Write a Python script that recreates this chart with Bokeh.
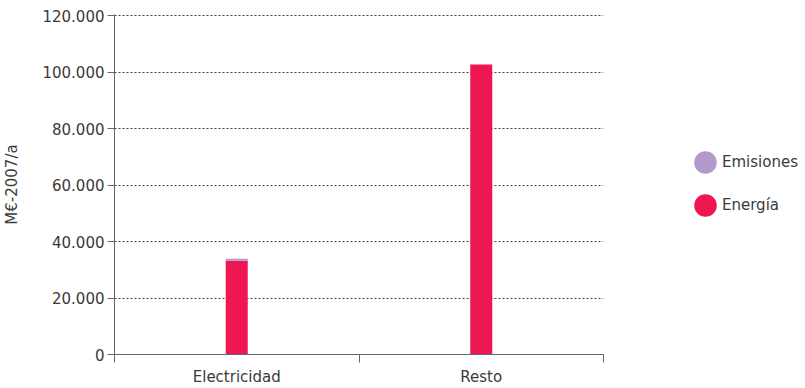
from bokeh.plotting import figure
from bokeh.layouts import row
from bokeh.models import (ColumnDataSource, Range1d, FixedTicker, Legend, LegendItem)
from bokeh.embed import file_html
from bokeh.resources import INLINE

# Data (M€-2007 per year)
categories = ["Electricidad", "Resto"]
energia = [33200, 102700]
emisiones = [700, 0]
series_names = ["Emisiones", "Energía"]
y_ticks = [0, 20000, 40000, 60000, 80000, 100000, 120000]

PINK = "#EE1752"
PURPLE = "#B29BCA"
TEXT = "#3a3a3a"
AXIS = "#666666"
FONT = "DejaVu Sans"

centers = [i + 0.5 for i in range(len(categories))]
source = ColumnDataSource(dict(x=centers, cat=categories, energia=energia, emisiones=emisiones))

# a little headroom above the top tick so its grid line is not clipped
p = figure(width=690, height=388, output_backend="svg", toolbar_location=None,
           x_range=Range1d(0, len(categories)), y_range=Range1d(0, 120400),
           min_border_left=114, min_border_right=87, min_border_top=14, min_border_bottom=33)
p.outline_line_color = None
p.background_fill_color = "white"
p.border_fill_color = "white"

bars = p.vbar_stack(["energia", "emisiones"], x="x", width=0.09, source=source,
                    color=[PINK, PURPLE], line_width=0)

# Axes
xa = p.xaxis[0]
xa.ticker = FixedTicker(ticks=centers, minor_ticks=list(range(len(categories) + 1)))
xa.major_label_overrides = {c: name for c, name in zip(centers, categories)}
xa.major_tick_line_color = None
xa.major_tick_out = 8
xa.major_tick_in = 0
xa.minor_tick_out = 8
xa.minor_tick_in = 0
xa.minor_tick_line_color = AXIS
xa.axis_line_color = AXIS
xa.major_label_standoff = 5
xa.major_label_text_font = FONT
xa.major_label_text_font_size = "15px"
xa.major_label_text_color = TEXT

ya = p.yaxis[0]
ya.ticker = FixedTicker(ticks=y_ticks, minor_ticks=[])
ya.major_label_overrides = {v: f"{v:,}".replace(",", ".") for v in y_ticks}
ya.major_tick_out = 7
ya.major_tick_in = 0
ya.major_tick_line_color = AXIS
ya.axis_line_color = AXIS
ya.major_label_standoff = 3
ya.major_label_text_font = FONT
ya.major_label_text_font_size = "15px"
ya.major_label_text_color = TEXT
ya.axis_label = "M€-2007/a"
ya.axis_label_text_font = FONT
ya.axis_label_text_font_size = "15px"
ya.axis_label_text_font_style = "normal"
ya.axis_label_text_color = TEXT
ya.axis_label_standoff = 18

p.xgrid.visible = False
p.ygrid.grid_line_color = "#444444"
p.ygrid.grid_line_dash = "2 2"
p.ygrid.grid_line_width = 1

# Legend panel with round markers
lg = figure(width=115, height=388, output_backend="svg", toolbar_location=None,
            x_range=Range1d(0, 1), y_range=Range1d(0, 1),
            x_axis_type=None, y_axis_type=None,
            min_border_left=0, min_border_right=0, min_border_top=0, min_border_bottom=0)
lg.outline_line_color = None
lg.xgrid.visible = False
lg.ygrid.visible = False

nan = float("nan")
dot_emis = lg.scatter(x=[nan], y=[nan], marker="circle", size=8, fill_color=PURPLE,
                      line_color=PURPLE, line_width=13)
dot_ener = lg.scatter(x=[nan], y=[nan], marker="circle", size=8, fill_color=PINK,
                      line_color=PINK, line_width=13)

legend = Legend(items=[LegendItem(label=series_names[0], renderers=[dot_emis]),
                       LegendItem(label=series_names[1], renderers=[dot_ener])],
                location=(3, 137), orientation="vertical",
                glyph_width=24, glyph_height=24, label_height=24, label_standoff=5,
                spacing=19, padding=0, margin=0,
                border_line_color=None, background_fill_alpha=0,
                label_text_font=FONT, label_text_font_size="15px",
                label_text_color=TEXT)
lg.add_layout(legend, "center")

layout = row(p, lg, spacing=0)
open("out.html", "w").write(file_html(layout, INLINE))
